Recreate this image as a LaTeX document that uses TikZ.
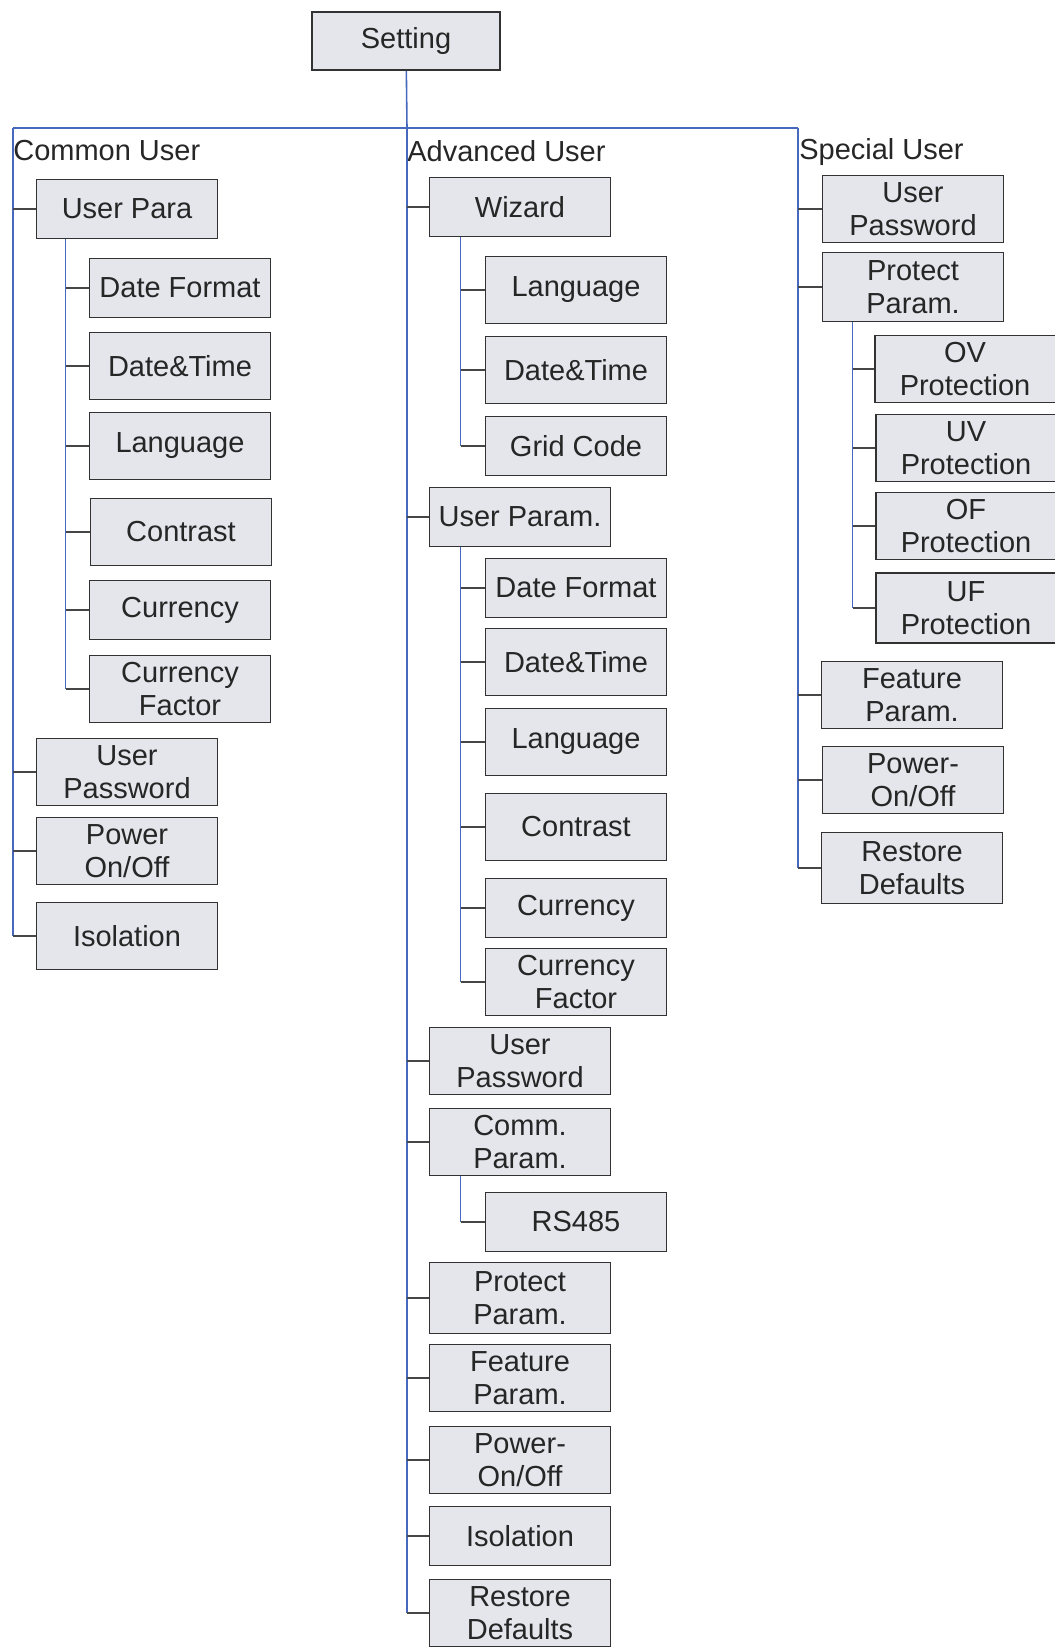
\documentclass[tikz,border=0pt]{standalone}
\usepackage{fontspec}
\setmainfont{Liberation Sans}
\usepackage{xcolor}
\definecolor{boxfill}{RGB}{228,230,236}
\definecolor{boxline}{RGB}{50,50,50}
\definecolor{trunkblue}{RGB}{70,105,190}
\definecolor{stubgray}{RGB}{70,70,70}
\usepackage{tikz}
\usetikzlibrary{positioning,calc}

\begin{document}
\begin{tikzpicture}[
    x=0.02cm, y=-0.02cm,
    font=\fontsize{16.5}{18.7}\selectfont,
    box/.style={rectangle, draw=boxline, fill=boxfill, line width=1.1pt, minimum width=3.62cm, minimum height=1.18cm, inner sep=0pt, align=center, text=black!85},
    tall/.style={minimum height=1.34cm},
    grp/.style={anchor=west, inner sep=0pt, text=black!85},
    trunk/.style={draw=trunkblue, line width=0.9pt},
    stub/.style={draw=stubgray, line width=0.9pt},
]
\useasboundingbox (0,0) rectangle (1054,1648);

% Root
\node[box, minimum width=3.76cm, minimum height=1.16cm] (setting) at (406,41) {Setting};
\coordinate (ctop) at (13,128);
\coordinate (atop) at (407,128);
\coordinate (stop) at (798,128);

% Column 1 - Common User
\node[grp] (common) at (13,151) {Common User};
\node[box] (cpara) at (127,209) {User Para};
\node[box] (cdate) at (180,288) {Date Format};
\node[box, tall] (ctime) at (180,366) {Date\&Time};
\node[box, tall] (clang) at (180,446) {Language};
\node[box, tall] (ccontr) at (181,532) {Contrast};
\node[box] (ccurr) at (180,610) {Currency};
\node[box, tall] (cfactor) at (180,689) {Currency\\Factor};
\node[box, tall] (cpass) at (127,772) {User\\Password};
\node[box, tall] (cpower) at (127,851) {Power\\On/Off};
\node[box, tall] (ciso) at (127,936) {Isolation};

% Column 2 - Advanced User
\node[grp] (advanced) at (407,151) {Advanced User};
\node[box] (awizard) at (520,207) {Wizard};
\node[box, tall] (alang) at (576,290) {Language};
\node[box, tall] (atime) at (576,370) {Date\&Time};
\node[box] (agrid) at (576,446) {Grid Code};
\node[box] (auser) at (520,517) {User Param.};
\node[box] (adate) at (576,588) {Date Format};
\node[box, tall] (atime2) at (576,662) {Date\&Time};
\node[box, tall] (alang2) at (576,742) {Language};
\node[box, tall] (acontr) at (576,827) {Contrast};
\node[box] (acurr) at (576,908) {Currency};
\node[box, tall] (afactor) at (576,982) {Currency\\Factor};
\node[box, tall] (apass) at (520,1061) {User\\Password};
\node[box, tall] (acomm) at (520,1142) {Comm.\\Param.};
\node[box] (ars) at (576,1222) {RS485};
\node[box, tall, minimum height=1.42cm] (aprot) at (520,1298) {Protect\\Param.};
\node[box, tall] (afeat) at (520,1378) {Feature\\Param.};
\node[box, tall] (apower) at (520,1460) {Power-\\On/Off};
\node[box] (aiso) at (520,1536) {Isolation};
\node[box, tall] (arestore) at (520,1613) {Restore\\Defaults};

% Column 3 - Special User
\node[grp] (special) at (799,152) {Special User};
\node[box, tall] (spass) at (913,209) {User\\Password};
\node[box, tall, minimum height=1.38cm] (sprot) at (913,287) {Protect\\Param.};
\node[box, tall] (sov) at (965,369) {OV\\Protection};
\node[box, tall] (suv) at (966,448) {UV\\Protection};
\node[box, tall] (sof) at (966,526) {OF\\Protection};
\node[box, tall, minimum height=1.4cm] (suf) at (966,608) {UF\\Protection};
\node[box, tall] (sfeat) at (912,695) {Feature\\Param.};
\node[box, tall] (spower) at (913,780) {Power-\\On/Off};
\node[box, tall, minimum height=1.42cm] (srestore) at (912,868) {Restore\\Defaults};

% Trunks
\draw[trunk] (setting) -- (atop);
\draw[trunk] (ctop) -- (stop);
\draw[trunk] (ctop) -- (ciso.west -| ctop);
\draw[trunk] (atop) -- (arestore.west -| atop);
\draw[trunk] (stop) -- (srestore.west -| stop);
\draw[trunk] ([xshift=0.6cm]cpara.south west) coordinate (csub) -- (csub |- cfactor.west);
\draw[trunk] ([xshift=0.64cm]awizard.south west) coordinate (asub1) -- (asub1 |- agrid.west);
\draw[trunk] ([xshift=0.64cm]auser.south west) coordinate (asub2) -- (asub2 |- afactor.west);
\draw[trunk] ([xshift=0.64cm]acomm.south west) coordinate (asub3) -- (asub3 |- ars.west);
\draw[trunk] ([xshift=0.62cm]sprot.south west) coordinate (ssub) -- (ssub |- suf.west);

% Stubs
\draw[stub] (cpara.west) -- (cpara.west -| ctop) (cpass.west) -- (cpass.west -| ctop)
    (cpower.west) -- (cpower.west -| ctop) (ciso.west) -- (ciso.west -| ctop);
\draw[stub] (cdate.west) -- (cdate.west -| csub) (ctime.west) -- (ctime.west -| csub)
    (clang.west) -- (clang.west -| csub) (ccontr.west) -- (ccontr.west -| csub)
    (ccurr.west) -- (ccurr.west -| csub) (cfactor.west) -- (cfactor.west -| csub);
\draw[stub] (awizard.west) -- (awizard.west -| atop) (auser.west) -- (auser.west -| atop)
    (apass.west) -- (apass.west -| atop) (acomm.west) -- (acomm.west -| atop)
    (aprot.west) -- (aprot.west -| atop) (afeat.west) -- (afeat.west -| atop)
    (apower.west) -- (apower.west -| atop) (aiso.west) -- (aiso.west -| atop)
    (arestore.west) -- (arestore.west -| atop);
\draw[stub] (alang.west) -- (alang.west -| asub1) (atime.west) -- (atime.west -| asub1)
    (agrid.west) -- (agrid.west -| asub1);
\draw[stub] (adate.west) -- (adate.west -| asub2) (atime2.west) -- (atime2.west -| asub2)
    (alang2.west) -- (alang2.west -| asub2) (acontr.west) -- (acontr.west -| asub2)
    (acurr.west) -- (acurr.west -| asub2) (afactor.west) -- (afactor.west -| asub2);
\draw[stub] (ars.west) -- (ars.west -| asub3);
\draw[stub] (spass.west) -- (spass.west -| stop) (sprot.west) -- (sprot.west -| stop)
    (sfeat.west) -- (sfeat.west -| stop) (spower.west) -- (spower.west -| stop)
    (srestore.west) -- (srestore.west -| stop);
\draw[stub] (sov.west) -- (sov.west -| ssub) (suv.west) -- (suv.west -| ssub)
    (sof.west) -- (sof.west -| ssub) (suf.west) -- (suf.west -| ssub);

\end{tikzpicture}
\end{document}
